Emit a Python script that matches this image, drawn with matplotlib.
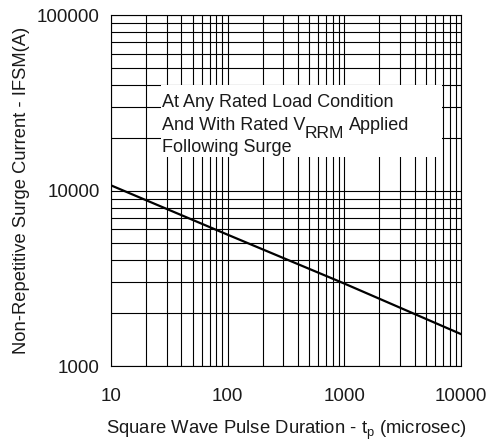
import matplotlib
matplotlib.use("Agg")
import matplotlib.pyplot as plt
from matplotlib.ticker import LogLocator, FixedLocator, NullFormatter
from matplotlib.patches import Rectangle

plt.rcParams['font.family'] = ['Liberation Sans', 'DejaVu Sans']
plt.rcParams['mathtext.fontset'] = 'custom'
plt.rcParams['mathtext.rm'] = 'Liberation Sans'

# pulse duration (microsec) vs surge current (A)
duration = [10, 100, 1000, 10000]
surge = [10700, 5600, 2950, 1520]

x_ticks = [10, 100, 1000, 10000]
x_labels = ['10', '100', '1000', '10000']
y_ticks = [1000, 10000, 100000]
y_labels = ['1000', '10000', '100000']

note_lines = ['At Any Rated Load Condition', 'And With Rated V', 'RRM', 'Applied', 'Following Surge']

txt = '#1a1a1a'
fig = plt.figure(figsize=(4.9, 4.43), dpi=100)
ax = fig.add_axes([0.2265, 0.1738, 0.7143, 0.7923])
ax.set_xscale('log')
ax.set_yscale('log')
ax.set_xlim(10, 10000)
ax.set_ylim(1000, 100000)

ax.xaxis.set_major_locator(FixedLocator(x_ticks))
ax.set_xticklabels(x_labels)
ax.yaxis.set_major_locator(FixedLocator(y_ticks))
ax.set_yticklabels(y_labels)
ax.xaxis.set_minor_locator(LogLocator(base=10, subs=range(2, 10)))
ax.yaxis.set_minor_locator(LogLocator(base=10, subs=range(2, 10)))
ax.xaxis.set_minor_formatter(NullFormatter())
ax.yaxis.set_minor_formatter(NullFormatter())
ax.tick_params(which='both', length=0, labelsize=13.5, labelcolor=txt)
ax.tick_params(axis='x', pad=16)
ax.tick_params(axis='y', pad=8)

ax.set_axisbelow(True)
ax.grid(True, which='both', color='black', linewidth=0.8)
for s in ax.spines.values():
    s.set_linewidth(0.8)

ax.plot(duration, surge, color='black', linewidth=1.6, zorder=3)

# white note box
ax.add_patch(Rectangle((0.143, 0.595), 0.803, 0.205, transform=ax.transAxes,
                       facecolor='white', edgecolor='none', zorder=2))
fs = 13
ax.text(0.145, 0.738, note_lines[0], transform=ax.transAxes, fontsize=fs,
        color=txt, va='baseline', zorder=4)
t2 = ax.text(0.145, 0.672, note_lines[1], transform=ax.transAxes, fontsize=fs,
             color=txt, va='baseline', zorder=4)
t3 = ax.annotate(note_lines[2], xy=(1, 0), xycoords=t2, xytext=(0, -5),
                 textcoords='offset points', fontsize=12.5, color=txt,
                 va='bottom', zorder=4)
ax.annotate(note_lines[3], xy=(1, 0), xycoords=(t3, t2), xytext=(3, 0),
            textcoords='offset points', fontsize=fs, color=txt,
            va='bottom', zorder=4)
ax.text(0.145, 0.61, note_lines[4], transform=ax.transAxes, fontsize=fs,
        color=txt, va='baseline', zorder=4)

ax.set_xlabel('Square Wave Pulse Duration - t$_\\mathregular{p}$ (microsec)',
              fontsize=13.3, color=txt, labelpad=10)
ax.set_ylabel('Non-Repetitive Surge Current - IFSM(A)', fontsize=13.2,
              color=txt, labelpad=5)

fig.savefig('out.png', dpi=100)
